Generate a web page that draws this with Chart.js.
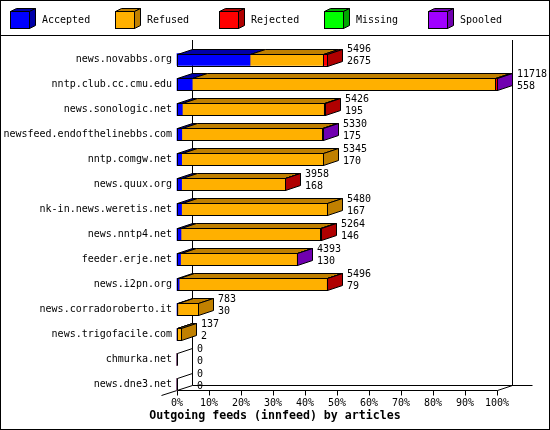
<!DOCTYPE html>
<html>
<head>
<meta charset="utf-8">
<script src="https://cdn.jsdelivr.net/npm/chart.js@4.4.0/dist/chart.umd.min.js"></script>
<style>
  html, body { margin: 0; padding: 0; background: #fff; }
</style>
</head>
<body>
<canvas id="chart" width="550" height="430"></canvas>
<script>
// feeds, articles per outgoing peer
const hosts = ["news.novabbs.org", "nntp.club.cc.cmu.edu", "news.sonologic.net",
  "newsfeed.endofthelinebbs.com", "nntp.comgw.net", "news.quux.org",
  "nk-in.news.weretis.net", "news.nntp4.net", "feeder.erje.net", "news.i2pn.org",
  "news.corradoroberto.it", "news.trigofacile.com", "chmurka.net", "news.dne3.net"];
const accepted = [2675, 558, 195, 175, 170, 168, 167, 146, 130, 79, 30, 2, 0, 0];
const refused  = [2661, 11100, 5171, 5145, 5175, 3780, 5313, 5103, 4248, 5397, 753, 135, 0, 0];
const rejected = [160, 50, 60, 0, 0, 10, 0, 15, 0, 20, 0, 0, 0, 0];
const missing  = [0, 0, 0, 0, 0, 0, 0, 0, 0, 0, 0, 0, 0, 0];
const spooled  = [0, 10, 0, 10, 0, 0, 0, 0, 15, 0, 0, 0, 0, 0];
const seriesNames = ["Accepted", "Refused", "Rejected", "Missing", "Spooled"];
const pctTicks = [0, 10, 20, 30, 40, 50, 60, 70, 80, 90, 100];

const faceColors  = ["#0000ff", "#ffb000", "#ff0000", "#00ff00", "#a000ff"];
const shadeColors = ["#0000a8", "#c08000", "#b00000", "#00a800", "#7000b0"];

const series = [accepted, refused, rejected, missing, spooled];
const totals = hosts.map((h, i) => series.reduce((s, arr) => s + arr[i], 0));
const maxTotal = Math.max(...totals);

const FONT = "'DejaVu Sans Mono', monospace";
const DX = 15, DY = -5, BAR_H = 12;
const px = v => Math.round(v) + 0.5;

function poly(ctx, pts, fill) {
  ctx.beginPath();
  ctx.moveTo(pts[0][0], pts[0][1]);
  for (let p of pts.slice(1)) ctx.lineTo(p[0], p[1]);
  ctx.closePath();
  if (fill) { ctx.fillStyle = fill; ctx.fill(); }
  ctx.stroke();
}
function line(ctx, x1, y1, x2, y2) {
  ctx.beginPath(); ctx.moveTo(x1, y1); ctx.lineTo(x2, y2); ctx.stroke();
}

const box3d = {
  id: "box3d",
  beforeDatasetsDraw(chart) { // walls and floor
    const { ctx, chartArea: a, scales } = chart;
    const front = px(a.bottom + BAR_H / 2);
    const back = front + DY;
    ctx.save();
    ctx.strokeStyle = "#000";
    ctx.lineWidth = 1;
    line(ctx, px(a.left + DX), 40, px(a.left + DX), back);
    line(ctx, px(a.right + DX), 40, px(a.right + DX), back);
    line(ctx, px(a.left + DX), back, px(a.right + DX + 20), back);
    line(ctx, px(a.left), front, px(a.right), front);
    line(ctx, px(a.right), front, px(a.right + DX), back);
    line(ctx, px(a.left - 16), front + 5, px(a.left + DX), back);
    for (let t of scales.x.ticks) {
      const x = px(scales.x.getPixelForValue(t.value));
      line(ctx, x, front, x, front + 5);
    }
    ctx.restore();
  },
  afterDatasetsDraw(chart) { // top faces, side faces, outlines, values
    const { ctx, chartArea: a, scales } = chart;
    const n = chart.data.datasets.length;
    ctx.save();
    ctx.strokeStyle = "#000";
    ctx.lineWidth = 1;
    ctx.lineJoin = "miter";
    hosts.forEach((h, i) => {
      const yc = scales.y.getPixelForValue(i);
      const top = px(yc - BAR_H / 2), bot = px(yc + BAR_H / 2);
      let xs = px(a.left), xe = xs, last = -1;
      for (let k = 0; k < n; k++) {
        const el = chart.getDatasetMeta(k).data[i];
        if (!chart.data.datasets[k].data[i]) continue;
        const x0 = px(el.base), x1 = px(el.x);
        poly(ctx, [[x0, top], [x1, top], [x1 + DX, top + DY], [x0 + DX, top + DY]], shadeColors[k]);
        if (k >= 2) line(ctx, x0, top, x0, bot);
        xe = x1; last = k;
      }
      if (last >= 0) {
        poly(ctx, [[xe, top], [xe + DX, top + DY], [xe + DX, bot + DY], [xe, bot]], shadeColors[last]);
        ctx.strokeRect(xs, top, xe - xs, bot - top);
      } else {
        line(ctx, xs, top, xs + DX, top + DY);
        line(ctx, xs, top, xs, bot);
      }
      ctx.fillStyle = "#000";
      ctx.font = "10px " + FONT;
      ctx.textAlign = "left";
      ctx.textBaseline = "middle";
      ctx.fillText(String(totals[i]), xe + DX + 4.5, yc - 10);
      ctx.fillText(String(accepted[i]), xe + DX + 4.5, yc + 1.5);
    });
    ctx.restore();
  },
  afterDraw(chart) { // legend and frame
    const { ctx } = chart;
    ctx.save();
    ctx.strokeStyle = "#000";
    ctx.lineWidth = 1;
    chart.data.datasets.forEach((ds, k) => {
      const bx = 10.5 + Math.round(k * 104.5), by = 11.5, w = 19, hgt = 17, d = 6, e = -3;
      ctx.fillStyle = ds.backgroundColor;
      ctx.fillRect(bx, by, w, hgt);
      ctx.strokeRect(bx, by, w, hgt);
      poly(ctx, [[bx, by], [bx + w, by], [bx + w + d, by + e], [bx + d, by + e]], shadeColors[k]);
      poly(ctx, [[bx + w, by], [bx + w + d, by + e], [bx + w + d, by + hgt + e], [bx + w, by + hgt]], shadeColors[k]);
      ctx.fillStyle = "#000";
      ctx.font = "10px " + FONT;
      ctx.textAlign = "left";
      ctx.textBaseline = "middle";
      ctx.fillText(ds.label, bx + 31.5, 20.5);
    });
    line(ctx, 0, 35.5, 550, 35.5);
    ctx.strokeRect(0.5, 0.5, 549, 429);
    ctx.restore();
  }
};

Chart.defaults.font.family = FONT;
Chart.defaults.font.size = 10;
Chart.defaults.color = "#000";

new Chart(document.getElementById("chart").getContext("2d"), {
  type: "bar",
  data: {
    labels: hosts,
    datasets: seriesNames.map((name, k) => ({
      label: name,
      data: series[k],
      backgroundColor: faceColors[k],
      borderWidth: 0,
      barThickness: BAR_H,
      clip: false
    }))
  },
  options: {
    indexAxis: "y",
    responsive: false,
    animation: false,
    layout: { padding: { left: 0, right: 0, top: 59.5, bottom: 6.6 } },
    plugins: {
      legend: { display: false },
      tooltip: { enabled: false },
      title: {
        display: true,
        position: "bottom",
        text: "Outgoing feeds (innfeed) by articles",
        font: { family: FONT, size: 11.6, weight: "bold" },
        color: "#000",
        padding: 0
      }
    },
    scales: {
      x: {
        stacked: true,
        min: 0,
        max: maxTotal,
        grid: { display: false, drawTicks: false },
        border: { display: false },
        afterBuildTicks: s => { s.ticks = pctTicks.map(p => ({ value: p * maxTotal / 100 })); },
        afterFit: s => { s.height = 25; },
        ticks: {
          padding: 12.5,
          autoSkip: false,
          maxRotation: 0,
          callback: v => Math.round(v / maxTotal * 100) + "%"
        }
      },
      y: {
        stacked: true,
        offset: false,
        grid: { display: false, drawTicks: false },
        border: { display: false },
        afterFit: s => { s.width = 177; },
        ticks: { padding: 5, autoSkip: false }
      },
      // empty room right of the plot for the value labels
      yRight: {
        type: "category",
        position: "right",
        grid: { display: false, drawTicks: false },
        border: { display: false },
        ticks: { display: false },
        afterFit: s => { s.width = 53; }
      }
    }
  },
  plugins: [box3d]
});
</script>
</body>
</html>
